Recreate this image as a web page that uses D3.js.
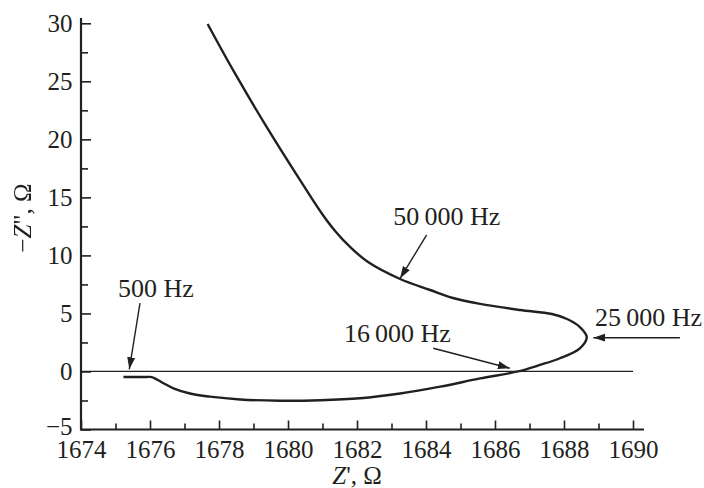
<!DOCTYPE html>
<html><head><meta charset="utf-8">
<script src="https://cdn.jsdelivr.net/npm/d3@7"></script>
<style>
html,body{margin:0;padding:0;background:#fff;}
svg text{font-family:"Liberation Serif","Times New Roman",serif;fill:#231f20;}
</style></head>
<body>
<svg id="chart" width="704" height="488"></svg>
<script>
// ---- data ----
const zReal = [1675.23,1675.9,1676.05,1676.35,1676.68,1677.16,1677.74,1678.61,1679.77,1680.93,1682.09,1683.25,1684.41,1685.57,1686.63,1687.3,1687.88,1688.46,1688.66,1688.46,1688.09,1687.65,1686.72,1685.57,1684.78,1684.12,1683.25,1682.32,1681.8,1681.39,1680.99,1680.29,1679.38,1678.43,1677.67];
const zImagNeg = [-0.48,-0.48,-0.48,-0.95,-1.45,-1.9,-2.17,-2.41,-2.52,-2.48,-2.31,-1.9,-1.31,-0.6,-0.02,0.56,1.14,2.0,2.97,3.83,4.52,4.95,5.3,5.82,6.33,7.02,7.97,9.43,10.73,12.02,13.57,16.76,21.07,25.85,29.94];
const xTicks = [1674,1676,1678,1680,1682,1684,1686,1688,1690];
const xMinor = [1675,1677,1679,1681,1683,1685,1687,1689];
const yTicks = [-5,0,5,10,15,20,25,30];
const yMinor = [-2.5,2.5,7.5,12.5,17.5,22.5,27.5];
const annLabels = ["500 Hz","50\u2009000 Hz","16\u2009000 Hz","25\u2009000 Hz"];
const annTextX = [1675.07,1683.05,1681.62,1688.90];
const annTextY = [6.42,12.62,2.54,3.92];
const annFromX = [1675.71,1684.02,1684.21,1691.36];
const annFromY = [5.88,11.76,2.0,2.91];
const annToX = [1675.40,1683.25,1686.43,1688.85];
const annToY = [0.19,8.03,0.28,2.91];

const svg = d3.select("#chart");
const x = d3.scaleLinear().domain([1674,1690]).range([81,633]);
const y = d3.scaleLinear().domain([-5,30]).range([429.5,23.3]);
const ink = "#231f20";

const defs = svg.append("defs");
const f = defs.append("filter").attr("id","gray").attr("x","-20%").attr("y","-20%").attr("width","140%").attr("height","140%");
f.append("feColorMatrix").attr("type","saturate").attr("values",0);

// zero line
svg.append("line").attr("x1",x(1674)).attr("x2",x(1690)).attr("y1",y(0)).attr("y2",y(0))
  .attr("stroke",ink).attr("stroke-width",1.3);

// axes
const gx = svg.append("g").attr("transform",`translate(0,${y(-5)})`)
  .call(d3.axisBottom(x).tickValues(xTicks).tickFormat(d3.format("d")).tickSize(-9).tickPadding(11));
const gxm = svg.append("g").attr("transform",`translate(0,${y(-5)})`)
  .call(d3.axisBottom(x).tickValues(xMinor).tickFormat("").tickSize(-6));
const gy = svg.append("g").attr("transform",`translate(${x(1674)},0)`)
  .call(d3.axisLeft(y).tickValues(yTicks).tickFormat(d=>d<0?"\u2212"+Math.abs(d):d).tickSize(-10).tickPadding(8.5));
const gym = svg.append("g").attr("transform",`translate(${x(1674)},0)`)
  .call(d3.axisLeft(y).tickValues(yMinor).tickFormat("").tickSize(-7));
[gx,gxm,gy,gym].forEach(g=>{
  g.select(".domain").remove();
  g.selectAll(".tick line").attr("stroke",ink).attr("stroke-width",1.6);
  g.selectAll(".tick text").attr("font-size",25).attr("font-family","Liberation Serif").attr("fill",ink);
});
gy.selectAll(".tick text").filter(d=>d<0).attr("dy","0.2em");
// axis lines
svg.append("line").attr("x1",x(1674)).attr("x2",x(1690.32)).attr("y1",y(-5)).attr("y2",y(-5))
  .attr("stroke",ink).attr("stroke-width",2.2);
svg.append("line").attr("x1",x(1674)).attr("x2",x(1674)).attr("y1",y(-5)+1).attr("y2",y(30.45))
  .attr("stroke",ink).attr("stroke-width",2.2);

// titles
const xt = svg.append("text").attr("x",x(1682)).attr("y",484).attr("text-anchor","middle").attr("font-size",25);
xt.append("tspan").attr("font-style","italic").text("Z");
xt.append("tspan").text("', \u03A9");
const ytg = svg.append("g").attr("filter","url(#gray)");
const yt = ytg.append("text").attr("transform","translate(31,218) rotate(-90)").attr("text-anchor","middle").attr("font-size",25);
yt.append("tspan").text("\u2212");
yt.append("tspan").attr("font-style","italic").text("Z");
yt.append("tspan").text("\", \u03A9");

// curve
const pts = zReal.map((v,i)=>[v,zImagNeg[i]]);
svg.append("path").datum(pts)
  .attr("d",d3.line().x(d=>x(d[0])).y(d=>y(d[1])).curve(d3.curveCatmullRom.alpha(0.5)))
  .attr("fill","none").attr("stroke",ink).attr("stroke-width",2.4).attr("stroke-linejoin","round");

// arrow marker
defs.append("marker").attr("id","ah").attr("markerUnits","userSpaceOnUse")
  .attr("markerWidth",14).attr("markerHeight",10).attr("refX",12).attr("refY",0)
  .attr("viewBox","0 -5 14 10").attr("orient","auto")
  .append("path").attr("d","M0,-4L12,0L0,4Z").attr("fill",ink);

annLabels.forEach((t,i)=>{
  svg.append("line").attr("x1",x(annFromX[i])).attr("y1",y(annFromY[i]))
    .attr("x2",x(annToX[i])).attr("y2",y(annToY[i]))
    .attr("stroke",ink).attr("stroke-width",1.4).attr("marker-end","url(#ah)");
  svg.append("text").attr("x",x(annTextX[i])).attr("y",y(annTextY[i])).attr("font-size",26).text(t);
});
</script>
</body></html>
